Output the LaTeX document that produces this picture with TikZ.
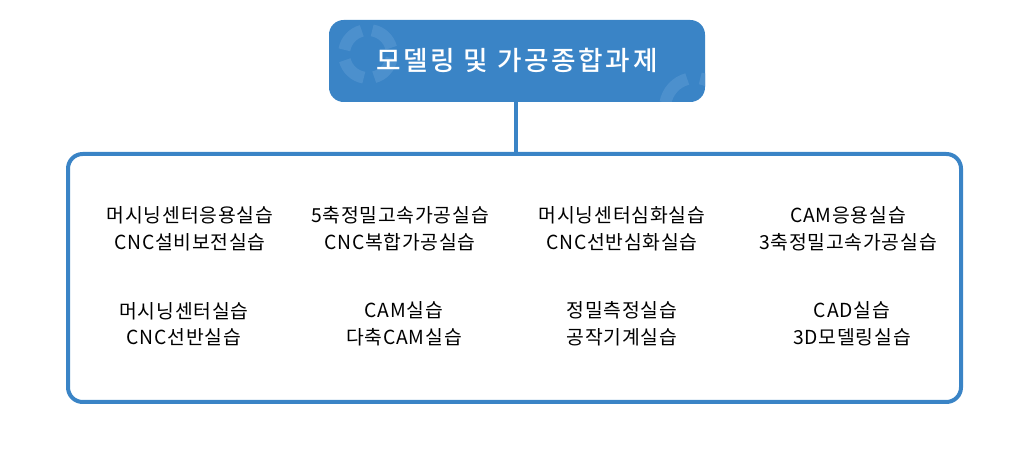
\documentclass[tikz,border=0pt]{standalone}
\usepackage{fontspec}
\setmainfont{Noto Sans CJK KR}
\newfontfamily\itemfont{Noto Sans CJK KR}[LetterSpace=4]
\newfontfamily\titlefont{Noto Sans CJK KR Medium}[LetterSpace=10]
\definecolor{mainblue}{HTML}{3A84C6}
\definecolor{ringblue}{HTML}{4C90CD}
\begin{document}
\begin{tikzpicture}[x=0.75pt,y=-0.75pt,
  item/.style={align=center,font=\itemfont\fontsize{14.5}{20}\selectfont,text=black}]
\useasboundingbox (0,0) rectangle (1029,473);
\node[draw=none,fill=mainblue,rounded corners=11pt,minimum width=282pt,minimum height=61.5pt] (top) at (517,61) {};
\begin{scope}
\clip[rounded corners=11pt] (329,20) rectangle (705,102);
\foreach \a in {0,90,180,270}{
  \draw[ringblue,line width=9pt] (368,54) ++(\a+10:24) arc (\a+10:\a+75:24);
  \draw[ringblue,line width=9pt] (695,108) ++(\a+10:30) arc (\a+10:\a+75:30);
}
\end{scope}
\node[text=white,font=\titlefont\fontsize{20}{24}\selectfont] (title) at (517,60) {모델링 및 가공종합과제};
\draw[mainblue,line width=3pt,rounded corners=11pt] (68,154) rectangle (961,402);
\coordinate (boxtop) at (516,154);
\draw[mainblue,line width=3pt] (516,102) -- (boxtop);
\node[item] (a1) at (190,229) {머시닝센터응용실습\\CNC설비보전실습};
\node[item] (a2) at (400,229) {5축정밀고속가공실습\\CNC복합가공실습};
\node[item] (a3) at (622,229) {머시닝센터심화실습\\CNC선반심화실습};
\node[item] (a4) at (848,229) {CAM응용실습\\3축정밀고속가공실습};
\node[item] (b1) at (184,324) {머시닝센터실습\\CNC선반실습};
\node[item] (b2) at (404,324) {CAM실습\\다축CAM실습};
\node[item] (b3) at (622,324) {정밀측정실습\\공작기계실습};
\node[item] (b4) at (852,324) {CAD실습\\3D모델링실습};
\end{tikzpicture}
\end{document}
